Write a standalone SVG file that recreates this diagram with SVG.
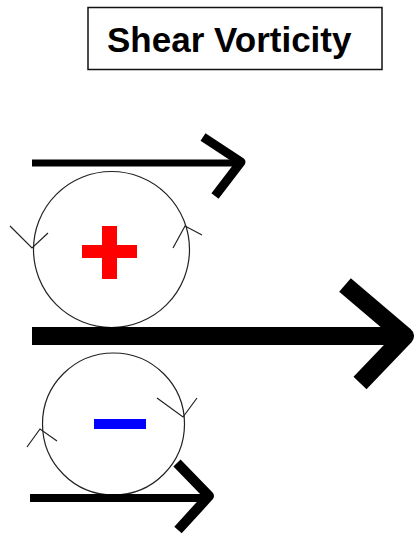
<svg xmlns="http://www.w3.org/2000/svg" width="417" height="535" viewBox="0 0 417 535">
<style>
.shaft{stroke:#000;fill:none;stroke-linecap:butt}
.head{stroke:#000;fill:none;stroke-linejoin:round;stroke-linecap:butt}
.circ{stroke:#222;stroke-width:1.2;fill:none}
.tick{stroke:#222;stroke-width:1.2;fill:none}
.title{font-family:"Liberation Sans",Arial,sans-serif;font-weight:bold;font-size:35px;fill:#000}
</style>
<rect width="417" height="535" fill="#fff"/>
<g id="title">
<rect x="88" y="7.5" width="294" height="62" fill="#fff" stroke="#111" stroke-width="1.5"/>
<text class="title" x="107" y="52">Shear Vorticity</text>
</g>
<g id="positive-vortex">
<circle class="circ" cx="111.5" cy="249.5" r="78"/>
<polyline class="tick" points="10,226 32,248 48,233"/>
<polyline class="tick" points="173,248 185,226 202,235"/>
<rect x="82" y="245" width="55" height="13" fill="#f00"/>
<rect x="102" y="226" width="15" height="53" fill="#f00"/>
</g>
<g id="negative-vortex">
<circle class="circ" cx="113.5" cy="424" r="71"/>
<polyline class="tick" points="27,447 40,429 57,441"/>
<polyline class="tick" points="157,398 183,417 197,398"/>
<rect x="94" y="419" width="52" height="10" fill="#00f"/>
</g>
<g id="connectors">
<line class="shaft" x1="32" y1="163" x2="240" y2="163" stroke-width="7"/>
<polyline class="head" points="203,137 241,162 215,196" stroke-width="9"/>
<line class="shaft" x1="32" y1="336" x2="405" y2="336" stroke-width="18"/>
<polyline class="head" points="345,285 405,336 360,383" stroke-width="18"/>
<line class="shaft" x1="30" y1="498" x2="208" y2="498" stroke-width="8"/>
<polyline class="head" points="177,463 209,496 178,530" stroke-width="10"/>
</g>
</svg>
